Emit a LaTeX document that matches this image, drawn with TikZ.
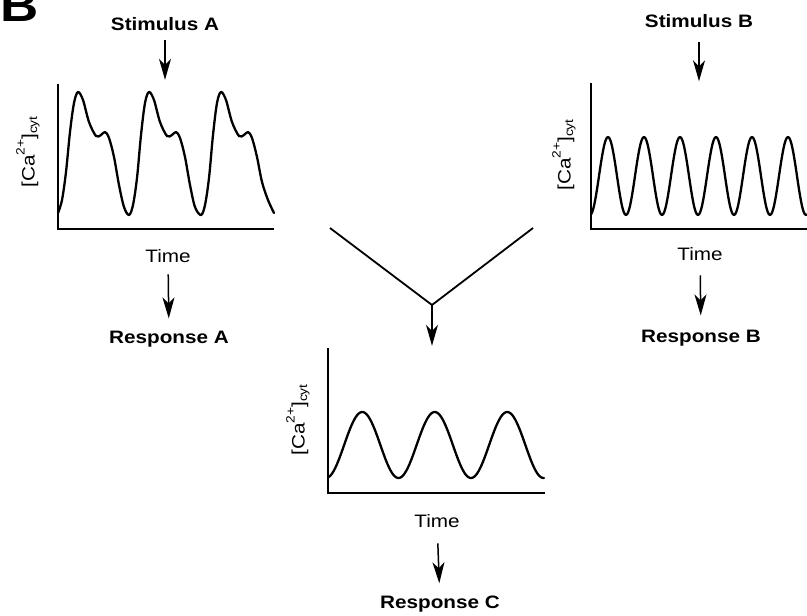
\documentclass[tikz,border=0pt]{standalone}
\usepackage{fontspec}
\setmainfont{Liberation Sans}[FakeStretch=1.15]
\usetikzlibrary{positioning,arrows.meta}

\newcommand{\cacyt}{[Ca\raisebox{0.55em}{\fontsize{12}{12}\selectfont 2+}]\raisebox{-0.15em}{\fontsize{12}{12}\selectfont cyt}}

\begin{document}
\begin{tikzpicture}[x=1pt, y=-1pt,
  font=\fontsize{18}{21}\selectfont, >=Stealth,
  lbl/.style={inner sep=0pt, anchor=base},
  ttl/.style={lbl, font=\fontsize{18}{21}\selectfont\bfseries},
  ylbl/.style={inner sep=0pt, rotate=90},
  frame/.style={inner sep=0pt, minimum width=216pt, minimum height=145pt},
  ax/.style={line width=2.2pt},
  wave/.style={line width=2.3pt, line join=round, line cap=round},
  vee/.style={line width=1.8pt, line join=miter},
  arr/.style={-{Stealth[length=21pt, width=12pt, inset=6pt]}, line width=1.5pt, shorten <=12pt, shorten >=12pt}]
  \useasboundingbox (0,0) rectangle (807,616);

  \node[font=\fontsize{46}{46}\selectfont\bfseries, inner sep=0pt, anchor=base west] (panel) at (0,21) {B};

  \node[ttl] (stimA) at (165,30) {Stimulus A};
  \node[frame] (plotA) at (166,156.5) {};
  \node[ylbl] (yA) at (28,152) {\cacyt};
  \node[lbl] (timeA) at (168,262) {Time};
  \node[ttl] (respA) at (169,343) {Response A};

  \node[ttl] (stimB) at (699,27) {Stimulus B};
  \node[frame] (plotB) at (699,156) {};
  \node[ylbl] (yB) at (564,155) {\cacyt};
  \node[lbl] (timeB) at (700,260) {Time};
  \node[ttl] (respB) at (701,342) {Response B};

  \node[frame] (plotC) at (436.5,420.5) {};
  \node[ylbl] (yC) at (298,420) {\cacyt};
  \node[lbl] (timeC) at (437,527) {Time};
  \node[ttl] (respC) at (440,608) {Response C};

  \coordinate (vL) at (330,228);
  \coordinate (vR) at (533,228);
  \coordinate (vJ) at (432,305);

  \draw[ax] (plotA.north west) -- (plotA.south west) -- (plotA.south east);
  \draw[ax] (plotB.north west) -- (plotB.south west) -- (plotB.south east);
  \draw[ax] (plotC.north west) -- (plotC.south west) -- (plotC.south east);

  \draw[wave] plot[smooth, tension=0.55] coordinates {
    (58,213) (62,200) (66,172) (70,132) (74,103) (78,92) (83,100) (89,122) (96,136) (101,135)
    (105,132) (109,138) (114,157) (119,185) (124,207)
    (129,215) (133,205) (137,178) (141,135) (145,103) (149,92) (154,100) (160,122) (167,136) (172,135)
    (176,132) (180,138) (185,157) (190,185) (195,207)
    (201,215) (205,205) (209,178) (213,135) (217,103) (221,92) (226,100) (232,122) (239,136) (244,135)
    (248,132) (252,138) (257,157) (262,182) (268,200) (274,213)};
  \draw[wave] plot[domain=591:807, samples=217] (\x,{176+39*cos(10*(\x-590))});
  \draw[wave] plot[domain=328:544, samples=150] (\x,{445+33*cos(4.9655*(\x-326))});

  \draw[arr, shorten <=10pt, shorten >=4pt] (stimA) -- (stimA |- plotA.north);
  \draw[arr] (timeA) -- (respA);
  \draw[arr, shorten <=15pt, shorten >=2pt] (stimB) -- (stimB |- plotB.north);
  \draw[arr, shorten <=15pt, shorten >=14pt] (timeB) -- (respB);
  \draw[vee] (vL) -- (vJ) -- (vR);
  \draw[arr, shorten <=0pt, shorten >=2pt] (vJ) -- (vJ |- plotC.north);
  \draw[arr, shorten <=16pt, shorten >=12pt] (timeC) -- (respC);
\end{tikzpicture}
\end{document}
